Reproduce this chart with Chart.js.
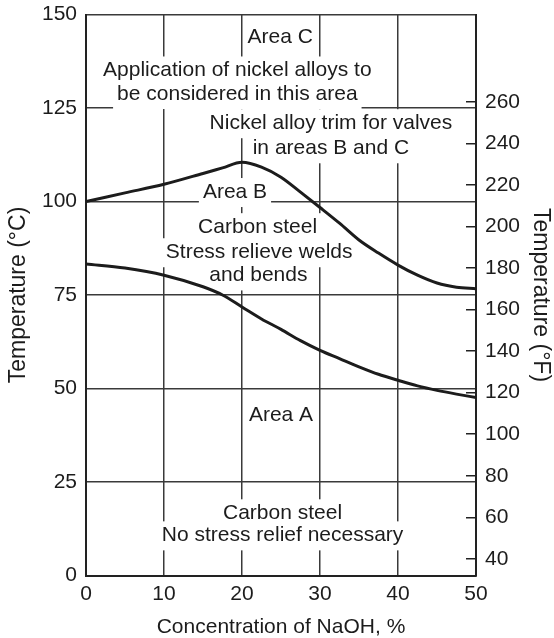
<!DOCTYPE html>
<html>
<head>
<meta charset="utf-8">
<script src="https://cdn.jsdelivr.net/npm/chart.js@4"></script>
<style>
  body { margin: 0; background: #fff; }
  canvas { display: block; }
</style>
</head>
<body>
<canvas id="naohChart" width="554" height="638"></canvas>
<script>
// NaOH concentration, %
const conc = [0, 5, 10, 15, 17.5, 20, 22.5, 25, 27.5, 30, 32.5, 35, 37.5, 40, 42.5, 45, 47.5, 50];
// boundary between area B and area C (deg C)
const upperTemp = [100, 102.3, 104.6, 107.5, 109.0, 110.5, 109.2, 106.5, 102.5, 98.4, 94.2, 89.7, 86.2, 83.0, 80.3, 78.2, 77.1, 76.7];
// boundary between area A and area B (deg C)
const lowerTemp = [83.3, 82.2, 80.3, 77.2, 75.0, 71.8, 68.6, 65.8, 62.8, 60.2, 58.0, 55.8, 53.8, 52.2, 50.7, 49.5, 48.5, 47.6];

const xTicks = [0, 10, 20, 30, 40, 50];
const cTicks = [0, 25, 50, 75, 100, 125, 150];
const fTicks = [40, 60, 80, 100, 120, 140, 160, 180, 200, 220, 240, 260];

// text notes inside the plot, anchored in data units (conc %, deg C)
const noteText = [
    'Area C',
    'Application of nickel alloys to',
    'be considered in this area',
    'Nickel alloy trim for valves',
    'in areas B and C',
    'Area B',
    'Carbon steel',
    'Stress relieve welds',
    'and bends',
    'Area A',
    'Carbon steel',
    'No stress relief necessary'
];
const noteX = [24.9, 19.4, 19.4, 31.4, 31.4, 19.1, 22.0, 22.2, 22.1, 25.0, 25.2, 25.2];
const noteY = [144.3, 135.3, 129.0, 121.2, 114.5, 102.8, 93.4, 86.7, 80.5, 43.2, 16.9, 11.0];

const FONT = '"Liberation Sans", Arial, Helvetica, sans-serif';
const INK = '#1c1c1c';

const toF = (c) => c * 9 / 5 + 32;

const areaLabels = {
    id: 'areaLabels',
    beforeDatasetsDraw(chart) {
        const { ctx, scales: { x, y } } = chart;
        ctx.save();
        ctx.font = '21px ' + FONT;
        ctx.textAlign = 'center';
        ctx.textBaseline = 'middle';
        // white boxes first, so the grid breaks round the text
        noteText.forEach((t, i) => {
            const px = x.getPixelForValue(noteX[i]);
            const py = y.getPixelForValue(noteY[i]);
            const w = ctx.measureText(t).width;
            ctx.fillStyle = '#fff';
            ctx.fillRect(px - w / 2 - 4, py - 13, w + 8, 29);
        });
        ctx.fillStyle = INK;
        noteText.forEach((t, i) => {
            ctx.fillText(t, x.getPixelForValue(noteX[i]), y.getPixelForValue(noteY[i]) + 1);
        });
        ctx.restore();
    }
};

const line = (temps) => ({
    data: conc.map((c, i) => ({ x: c, y: temps[i] })),
    borderColor: INK,
    borderWidth: 3,
    pointRadius: 0,
    fill: false,
    cubicInterpolationMode: 'monotone'
});

// fixed box sizes so the plot area lands where the original has it
const fitY = (width) => (s) => {
    s.width = width;
    s.paddingTop = 0;
    s.paddingBottom = 0;
};

const ctx = document.getElementById('naohChart').getContext('2d');
new Chart(ctx, {
    type: 'line',
    data: {
        datasets: [line(upperTemp), line(lowerTemp)]
    },
    options: {
        responsive: false,
        animation: false,
        devicePixelRatio: 1,
        layout: { padding: { top: 14.5, left: 0, right: 0, bottom: 0 } },
        plugins: {
            legend: { display: false },
            tooltip: { enabled: false }
        },
        scales: {
            x: {
                type: 'linear',
                min: xTicks[0],
                max: xTicks[xTicks.length - 1],
                afterBuildTicks: (s) => { s.ticks = xTicks.map((v) => ({ value: v })); },
                afterFit: (s) => { s.height = 62.5; },
                grid: { color: '#3a3a3a', lineWidth: 1.5, drawTicks: false },
                border: { color: '#222', width: 2 },
                ticks: { color: INK, font: { family: FONT, size: 21 }, padding: 6 },
                title: {
                    display: true,
                    text: 'Concentration of NaOH, %',
                    color: INK,
                    font: { family: FONT, size: 21, lineHeight: 1 },
                    padding: { top: 0, bottom: 0 }
                }
            },
            y: {
                position: 'left',
                min: cTicks[0],
                max: cTicks[cTicks.length - 1],
                afterBuildTicks: (s) => { s.ticks = cTicks.map((v) => ({ value: v })); },
                afterFit: fitY(86),
                grid: { color: '#3a3a3a', lineWidth: 1.5, drawTicks: false },
                border: { color: '#222', width: 2 },
                ticks: { color: INK, font: { family: FONT, size: 21 }, padding: 9 },
                title: {
                    display: true,
                    text: 'Temperature (°C)',
                    color: INK,
                    font: { family: FONT, size: 23, lineHeight: 1 },
                    padding: { top: 7.5, bottom: 0 }
                }
            },
            y2: {
                position: 'right',
                min: toF(cTicks[0]),
                max: toF(cTicks[cTicks.length - 1]),
                afterBuildTicks: (s) => { s.ticks = fTicks.map((v) => ({ value: v })); },
                afterFit: fitY(78),
                grid: { drawOnChartArea: false, drawTicks: true, tickLength: -10, color: '#222', lineWidth: 1.5 },
                border: { color: '#222', width: 2 },
                ticks: { color: INK, font: { family: FONT, size: 21 }, padding: 19 },
                title: {
                    display: true,
                    text: 'Temperature (°F)',
                    color: INK,
                    font: { family: FONT, size: 23, lineHeight: 1 },
                    padding: { top: 2.5, bottom: 0 }
                }
            }
        }
    },
    plugins: [areaLabels]
});
</script>
</body>
</html>
